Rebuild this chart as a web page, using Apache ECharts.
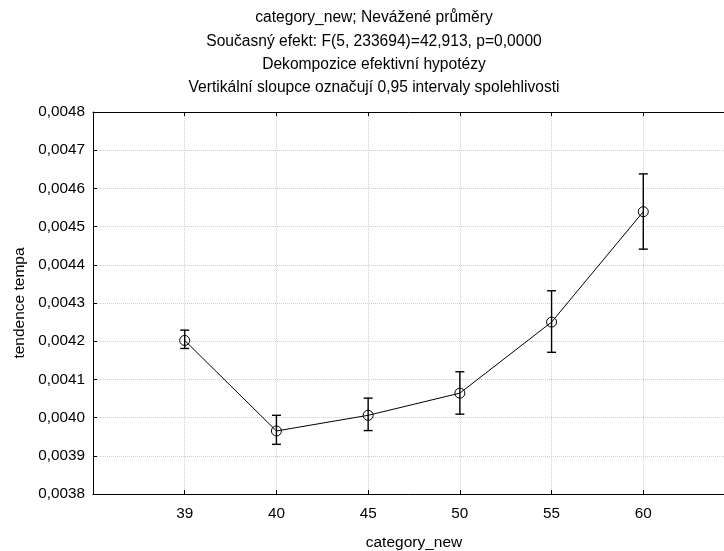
<!DOCTYPE html>
<html>
<head>
<meta charset="utf-8">
<script src="https://cdn.jsdelivr.net/npm/echarts@6/dist/echarts.min.js"></script>
<style>
  html, body { margin: 0; padding: 0; background: #fff; }
  #chart { width: 724px; height: 551px; }
</style>
</head>
<body>
<div id="chart"></div>
<script>
// categories on the x axis
var categories = ['39', '40', '45', '50', '55', '60'];
// unweighted means of "tendence tempa"
var means = [0.004202, 0.003965, 0.004006, 0.004064, 0.004250, 0.004539];
// 0.95 confidence interval limits
var lower = [0.004181, 0.003930, 0.003966, 0.004009, 0.004171, 0.004441];
var upper = [0.004229, 0.004006, 0.004051, 0.004120, 0.004332, 0.004638];

var titleLines = [
    'category_new; Nevážené průměry',
    'Současný efekt: F(5, 233694)=42,913, p=0,0000',
    'Dekompozice efektivní hypotézy',
    'Vertikální sloupce označují 0,95 intervaly spolehlivosti'
];

var FONT = 'Liberation Sans, Arial, sans-serif';

var lineData = [];
var errData = [];
for (var i = 0; i < categories.length; i++) {
    lineData.push([i, means[i]]);
    errData.push([i, lower[i], upper[i]]);
}

var graphics = [];
for (var i = 0; i < titleLines.length; i++) {
    graphics.push({
        type: 'text',
        x: 374,
        y: 18 + i * 23.3,
        style: {
            text: titleLines[i],
            font: '15.6px ' + FONT,
            fill: '#000',
            textAlign: 'center',
            textVerticalAlign: 'middle'
        }
    });
}

function renderErrorBar(params, api) {
    var x = api.value(0);
    var lo = api.coord([x, api.value(1)]);
    var hi = api.coord([x, api.value(2)]);
    var half = 4.5;
    var style = { stroke: '#000', lineWidth: 1.4 };
    return {
        type: 'group',
        children: [
            { type: 'line', shape: { x1: lo[0], y1: lo[1], x2: hi[0], y2: hi[1] }, style: style },
            { type: 'line', shape: { x1: lo[0] - half, y1: lo[1], x2: lo[0] + half, y2: lo[1] }, style: style },
            { type: 'line', shape: { x1: hi[0] - half, y1: hi[1], x2: hi[0] + half, y2: hi[1] }, style: style }
        ]
    };
}

var gridLine = { show: true, lineStyle: { color: '#cfcfcf', type: [1, 1], width: 1 } };

var option = {
    animation: false,
    backgroundColor: '#fff',
    textStyle: { fontFamily: FONT },
    graphic: graphics,
    grid: { left: 93, top: 112, width: 642, height: 382, outerBoundsMode: 'none', containLabel: false },
    xAxis: [
        {
            type: 'value',
            min: -1,
            max: 6,
            interval: 1,
            position: 'bottom',
            name: 'category_new',
            nameLocation: 'middle',
            nameGap: 41,
            nameTextStyle: { fontSize: 15.5, color: '#000', fontFamily: FONT },
            axisLine: { show: true, onZero: false, lineStyle: { color: '#000', width: 1 } },
            axisTick: { show: true, inside: true, length: 4, lineStyle: { color: '#000' } },
            axisLabel: {
                fontSize: 15.3,
                color: '#000',
                margin: 12,
                fontFamily: FONT,
                formatter: function (v) {
                    return categories[v] !== undefined ? categories[v] : '';
                }
            },
            splitLine: gridLine
        },
        {
            type: 'value',
            min: -1,
            max: 6,
            interval: 1,
            position: 'top',
            axisLine: { show: true, onZero: false, lineStyle: { color: '#000', width: 1 } },
            axisTick: { show: true, inside: true, length: 4, lineStyle: { color: '#000' } },
            axisLabel: { show: false },
            splitLine: { show: false }
        }
    ],
    yAxis: {
        type: 'value',
        min: 0.0038,
        max: 0.0048,
        interval: 0.0001,
        name: 'tendence tempa',
        nameLocation: 'middle',
        nameGap: 65,
        nameTextStyle: { fontSize: 15.5, color: '#000', fontFamily: FONT },
        axisLine: { show: true, onZero: false, lineStyle: { color: '#000', width: 1 } },
        axisTick: { show: true, inside: true, length: 4, lineStyle: { color: '#000' } },
        axisLabel: {
            fontSize: 15.3,
            color: '#000',
            margin: 8,
            fontFamily: FONT,
            formatter: function (v) {
                return v.toFixed(4).replace('.', ',');
            }
        },
        splitLine: gridLine
    },
    series: [
        {
            type: 'line',
            data: lineData,
            symbol: 'circle',
            symbolSize: 10,
            lineStyle: { color: '#000', width: 1 },
            itemStyle: { color: 'rgba(0,0,0,0)', borderColor: '#000', borderWidth: 1 },
            z: 3
        },
        {
            type: 'custom',
            data: errData,
            renderItem: renderErrorBar,
            z: 2
        }
    ]
};

var chart = echarts.init(document.getElementById('chart'));
chart.setOption(option);
</script>
</body>
</html>
